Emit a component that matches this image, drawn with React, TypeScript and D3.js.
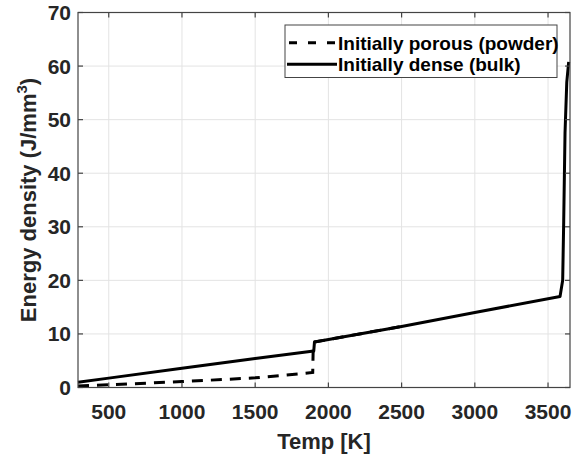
import React from "react";
import * as d3 from "d3";

const xTicks = [500, 1000, 1500, 2000, 2500, 3000, 3500];
const yTicks = [0, 10, 20, 30, 40, 50, 60, 70];

const bulkT = [290, 500, 1000, 1500, 1900, 1905, 2500, 3000, 3582, 3600, 3607, 3616, 3628, 3641];
const bulkE = [1.0, 1.75, 3.6, 5.4, 6.8, 8.5, 11.4, 14.0, 17.0, 20.0, 31.0, 47.5, 57.0, 60.8];

const powderT = [290, 500, 1000, 1500, 1893, 1897, 1905, 2500];
const powderE = [0.3, 0.5, 1.1, 1.8, 2.8, 8.4, 8.5, 11.4];

const legendLabels = ["Initially porous (powder)", "Initially dense (bulk)"];

const W = 586, H = 458;
const L = 78, R = 570, T = 12.5, B = 387.5;
const FONT = "'Liberation Sans', Arial, sans-serif";
const TXT = "#262626";

export default function App() {
  const x = d3.scaleLinear().domain([290, 3650]).range([L, R]);
  const y = d3.scaleLinear().domain([0, 70]).range([B, T]);
  const line = d3.line<[number, number]>().x(d => x(d[0])).y(d => y(d[1]));
  const bulk = bulkT.map((t, i) => [t, bulkE[i]] as [number, number]);
  const powder = powderT.map((t, i) => [t, powderE[i]] as [number, number]);
  const tl = 5;
  return (
    <svg width={W} height={H} style={{ position: "absolute", left: 0, top: 0, background: "#fff" }} fontFamily={FONT}>
      <rect x={0} y={0} width={W} height={H} fill="#fff" />
      {xTicks.map(t => (
        <line key={"gx" + t} x1={x(t)} x2={x(t)} y1={T} y2={B} stroke="#e3e3e3" strokeWidth={1} />
      ))}
      {yTicks.slice(1, -1).map(t => (
        <line key={"gy" + t} x1={L} x2={R} y1={y(t)} y2={y(t)} stroke="#e3e3e3" strokeWidth={1} />
      ))}
      <path d={line(powder) || ""} fill="none" stroke="#000" strokeWidth={3} strokeDasharray="11,8" />
      <path d={line(bulk) || ""} fill="none" stroke="#000" strokeWidth={3} strokeLinejoin="round" />
      <rect x={L} y={T} width={R - L} height={B - T} fill="none" stroke="#444" strokeWidth={1.2} />
      {xTicks.map(t => (
        <g key={"tx" + t}>
          <line x1={x(t)} x2={x(t)} y1={B} y2={B - tl} stroke="#444" strokeWidth={1.2} />
          <line x1={x(t)} x2={x(t)} y1={T} y2={T + tl} stroke="#444" strokeWidth={1.2} />
          <text x={x(t)} y={419} textAnchor="middle" fontSize={21} fontWeight="bold" fill={TXT}>{t}</text>
        </g>
      ))}
      {yTicks.map(t => (
        <g key={"ty" + t}>
          <line x1={L} x2={L + tl} y1={y(t)} y2={y(t)} stroke="#444" strokeWidth={1.2} />
          <line x1={R} x2={R - tl} y1={y(t)} y2={y(t)} stroke="#444" strokeWidth={1.2} />
          <text x={71} y={y(t)} dy="0.36em" textAnchor="end" fontSize={21} fontWeight="bold" fill={TXT}>{t}</text>
        </g>
      ))}
      <text x={(L + R) / 2} y={449} textAnchor="middle" fontSize={22} fontWeight="bold" fill={TXT}>Temp [K]</text>
      <text transform={`translate(36,${(T + B) / 2}) rotate(-90)`} textAnchor="middle" fontSize={22} fontWeight="bold" fill={TXT}>
        Energy density (J/mm<tspan fontSize={15} dy={-9}>3</tspan><tspan dy={9}>)</tspan>
      </text>
      <rect x={285} y={25} width={272} height={52.5} fill="#fff" stroke="#444" strokeWidth={1} />
      <line x1={289} x2={337} y1={42.7} y2={42.7} stroke="#000" strokeWidth={3} strokeDasharray="8,11" />
      <line x1={287} x2={337} y1={64.3} y2={64.3} stroke="#000" strokeWidth={3} />
      {legendLabels.map((s, i) => (
        <text key={s} x={338} y={i === 0 ? 42.7 : 64.3} dy="0.36em" fontSize={19} fontWeight="bold" fill="#000">{s}</text>
      ))}
    </svg>
  );
}
